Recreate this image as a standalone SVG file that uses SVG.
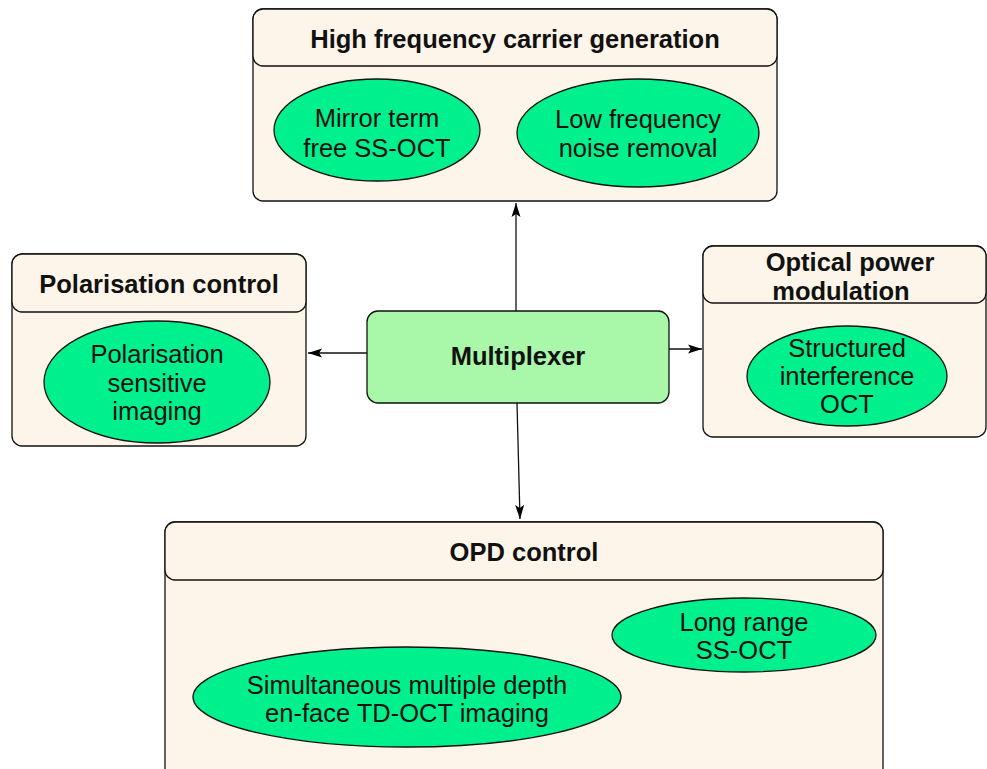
<svg xmlns="http://www.w3.org/2000/svg" width="987" height="769" viewBox="0 0 987 769">
  <defs>
    <marker id="arrow" viewBox="0 0 14 10" refX="14" refY="5" markerWidth="14" markerHeight="10" markerUnits="userSpaceOnUse" orient="auto">
      <path d="M0,0.5 L14,5 L0,9.5 L3,5 Z" fill="#000"/>
    </marker>
    <style>
      .panel { fill: #fdf5e9; stroke: #111; stroke-width: 1.3; }
      .leaf { fill: #00f08e; stroke: #111; stroke-width: 1.3; }
      .hub { fill: #a9f7a9; stroke: #111; stroke-width: 1.3; }
      .title { font-family: "Liberation Sans", Arial, sans-serif; font-size: 25.5px; font-weight: bold; fill: #111; text-anchor: middle; dominant-baseline: central; }
      .label { font-family: "Liberation Sans", Arial, sans-serif; font-size: 25.5px; fill: #111; text-anchor: middle; dominant-baseline: central; }
      .link { stroke: #111; stroke-width: 1.3; fill: none; marker-end: url(#arrow); }
    </style>
  </defs>
  <rect width="987" height="769" fill="#fff"/>

  <g id="connectors">
    <line class="link" x1="516" y1="311" x2="516" y2="203"/>
    <line class="link" x1="367" y1="353" x2="308" y2="353"/>
    <line class="link" x1="669" y1="349" x2="702" y2="349"/>
    <line class="link" x1="517" y1="403" x2="520" y2="519"/>
  </g>

  <g id="carrier">
    <rect class="panel" x="253" y="9" width="524" height="192" rx="10"/>
    <rect class="panel" x="253" y="9" width="524" height="57" rx="10"/>
    <text class="title" x="515" y="39">High frequency carrier generation</text>
    <g id="mirror">
      <ellipse class="leaf" cx="377" cy="130" rx="103" ry="51"/>
      <text class="label" x="377" y="118">Mirror term</text>
      <text class="label" x="377" y="148">free SS-OCT</text>
    </g>
    <g id="lowfreq">
      <ellipse class="leaf" cx="638" cy="133" rx="121" ry="54"/>
      <text class="label" x="638" y="119">Low frequency</text>
      <text class="label" x="638" y="148">noise removal</text>
    </g>
  </g>

  <g id="polarisation">
    <rect class="panel" x="12" y="254" width="294" height="192" rx="10"/>
    <rect class="panel" x="12" y="254" width="294" height="58" rx="10"/>
    <text class="title" x="159" y="284">Polarisation control</text>
    <g id="ps-imaging">
      <ellipse class="leaf" cx="157" cy="382" rx="113" ry="61"/>
      <text class="label" x="157" y="354">Polarisation</text>
      <text class="label" x="157" y="383">sensitive</text>
      <text class="label" x="157" y="411">imaging</text>
    </g>
  </g>

  <g id="multiplexer">
    <rect class="hub" x="367" y="311" width="302" height="92" rx="11"/>
    <text class="title" x="518" y="356">Multiplexer</text>
  </g>

  <g id="power">
    <rect class="panel" x="703" y="246" width="283" height="191" rx="10"/>
    <rect class="panel" x="703" y="246" width="283" height="57" rx="10"/>
    <text class="title" x="850" y="262">Optical power</text>
    <text class="title" x="841" y="291">modulation</text>
    <g id="structured">
      <ellipse class="leaf" cx="847" cy="376" rx="100" ry="50"/>
      <text class="label" x="847" y="348">Structured</text>
      <text class="label" x="847" y="376">interference</text>
      <text class="label" x="847" y="404">OCT</text>
    </g>
  </g>

  <g id="opd">
    <rect class="panel" x="165" y="522" width="718" height="260" rx="10"/>
    <rect class="panel" x="165" y="522" width="718" height="58" rx="10"/>
    <text class="title" x="524" y="552">OPD control</text>
    <g id="long-range">
      <ellipse class="leaf" cx="744" cy="635" rx="132" ry="37"/>
      <text class="label" x="744" y="622">Long range</text>
      <text class="label" x="744" y="650">SS-OCT</text>
    </g>
    <g id="multi-depth">
      <ellipse class="leaf" cx="407" cy="697" rx="214" ry="50"/>
      <text class="label" x="407" y="685">Simultaneous multiple depth</text>
      <text class="label" x="407" y="713">en-face TD-OCT imaging</text>
    </g>
  </g>
</svg>
